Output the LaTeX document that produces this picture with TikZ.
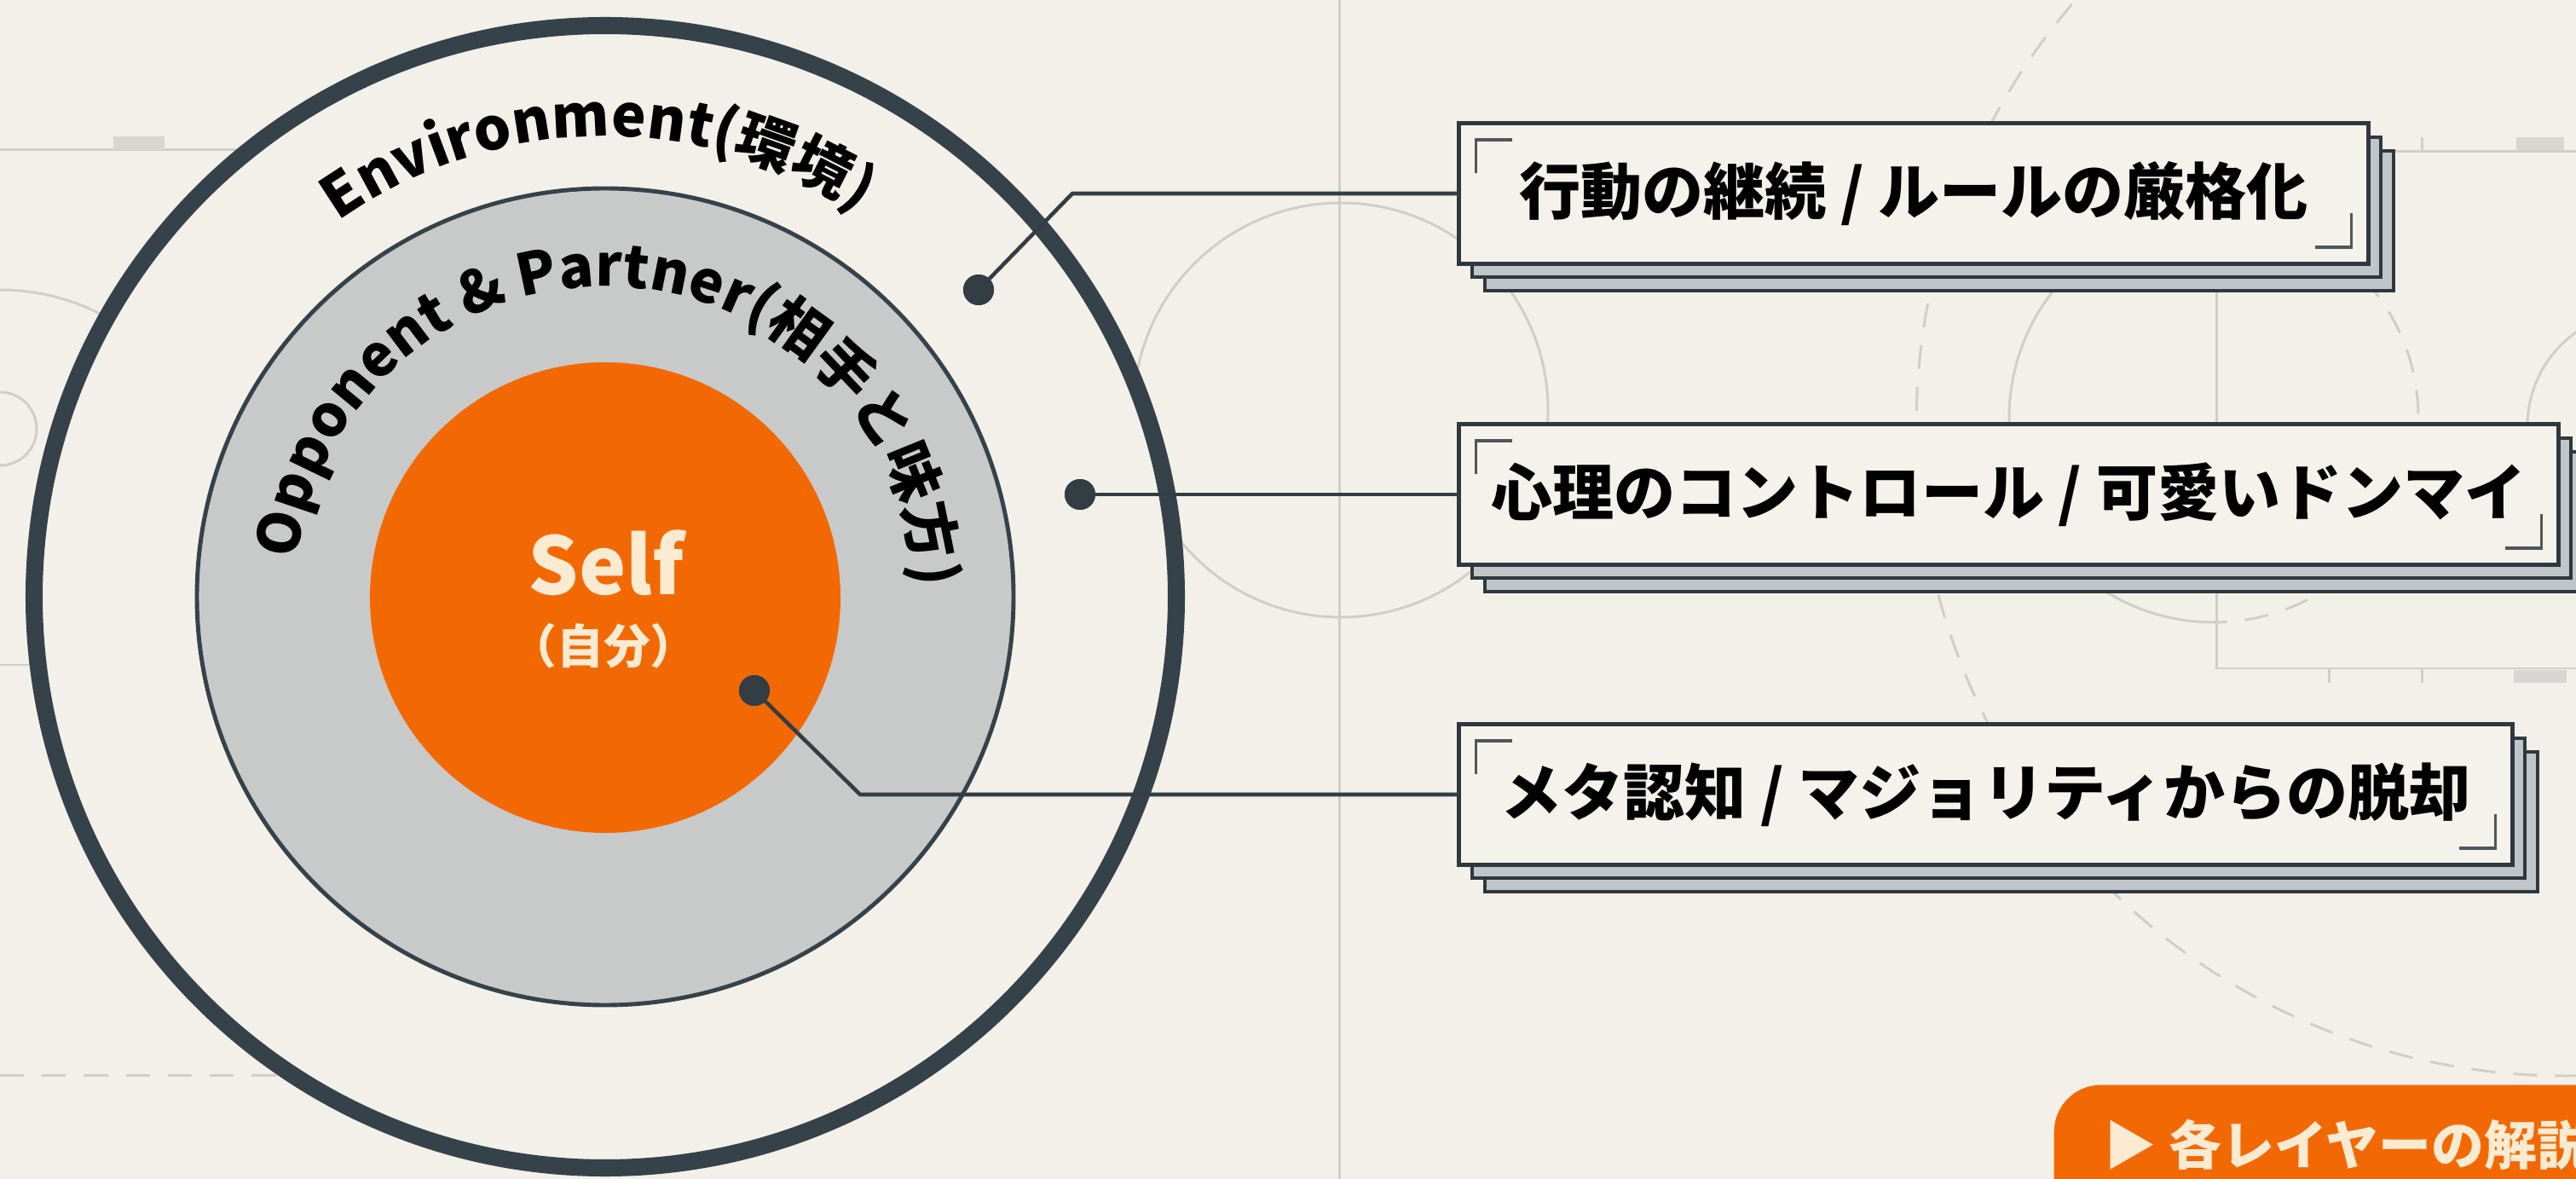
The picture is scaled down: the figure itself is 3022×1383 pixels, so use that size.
\documentclass[tikz,border=0pt]{standalone}
\usepackage{fontspec}
\setmainfont{Noto Sans CJK JP}
\usetikzlibrary{decorations.text}
\pgfdeclarelayer{bg}
\pgfdeclarelayer{sh}
\pgfsetlayers{bg,sh,main}
\definecolor{bgcol}{HTML}{F2F0E8}
\definecolor{ringcol}{HTML}{36424A}
\definecolor{graycol}{HTML}{C8C9C9}
\definecolor{orangecol}{HTML}{F26904}
\definecolor{creamtxt}{HTML}{FBEBD2}
\definecolor{courtcol}{HTML}{CFCFCA}
\definecolor{courtfill}{HTML}{D6D6D2}
\definecolor{boxfill}{HTML}{F4F2EA}
\definecolor{layerfill}{HTML}{BFC5C9}
\definecolor{boxline}{HTML}{2F383E}
\definecolor{conncol}{HTML}{333D44}
\definecolor{brackcol}{HTML}{50565A}
\begin{document}
\begin{tikzpicture}[x=0.01cm,y=-0.01cm,
  court/.style={draw=courtcol, line width=0.85pt},
  courtdash/.style={court, dash pattern=on 8pt off 6pt},
  conn/.style={draw=conncol, line width=1.3pt, line join=round},
  dotnode/.style={circle, fill=conncol, inner sep=0pt, minimum size=0.36cm},
  labelbox/.style={draw=boxline, line width=1.4pt, fill=boxfill, inner sep=0pt, outer sep=0pt,
    minimum height=1.64cm, text=black, font=\bfseries\fontsize{20.5pt}{24pt}\selectfont},
  layerbox/.style={draw=boxline, line width=1.1pt, fill=layerfill},
  bracket/.style={draw=brackcol, line width=1pt},
]
\useasboundingbox (0,0) rectangle (3022,1383);
\clip (0,0) rectangle (3022,1383);

\begin{pgfonlayer}{bg}
\fill[bgcol] (0,0) rectangle (3022,1383);
% left court marks
\draw[court] (0,176) -- (330,176);
\fill[courtfill] (133,160) rectangle (193,176);
\draw[court] (0,503) circle[radius=43];
\draw[court] (0,600) ++(-90:260) arc[start angle=-90, end angle=-30, radius=260];
\draw[court] (0,780) -- (35,780);
\draw[courtdash] (0,1261) -- (340,1261);
% centre
\draw[court] (1571,0) -- (1571,1383);
\draw[court] (1573,481) circle[radius=243];
% right court marks
\draw[courtdash] (3010,500) circle[radius=762];
\draw[court] (3022,178) -- (2600,178) -- (2600,784) -- (3022,784);
\draw[court] (2841,178) -- (2841,161);
\fill[courtfill] (2952,161) rectangle (3008,176);
\draw[court] (2732,784) -- (2732,801);
\draw[court] (2841,784) -- (2841,801);
\fill[courtfill] (2949,786) rectangle (3011,801);
\draw[court] (2597,490) ++(90:240) arc[start angle=90, end angle=270, radius=240];
\draw[courtdash] (2597,490) ++(-90:240) arc[start angle=-90, end angle=90, radius=240];
\draw[court] (3100,500) circle[radius=135];
\end{pgfonlayer}

% concentric layers
\draw[draw=ringcol, line width=5.7pt, fill=bgcol] (710,700) circle[radius=670];
\draw[draw=ringcol, line width=1.4pt, fill=graycol] (710,700) circle[radius=479];
\fill[orangecol] (710,701) circle[radius=276];

% curved labels
\path[decorate, decoration={text along path, text align=center,
  text={|\bfseries\fontsize{19.5pt}{22pt}\selectfont|Environment(環境)}}]
  (710,700) ++(-161:540) arc[start angle=-161, end angle=-21, radius=540];
\path[decorate, decoration={text along path, text align=center,
  text={|\bfseries\fontsize{19.3pt}{22pt}\selectfont|Opponent {\&} Partner(相手と味方)}}]
  (710,700) ++(-178:364) arc[start angle=-178, end angle=3, radius=364];

% centre label
\node[text=creamtxt, font=\bfseries\fontsize{26.5pt}{30pt}\selectfont] (self) at (711,660) {Self};
\node[text=creamtxt, font=\bfseries\fontsize{15.6pt}{18pt}\selectfont] (selfjp) at (708,758) {（自分）};

% boxes
\node[labelbox, minimum width=10.66cm] (box1) at (2245,227) {行動の継続 / ルールの厳格化};
\node[labelbox, minimum width=12.89cm] (box2) at (2356.5,580) {心理のコントロール / 可愛いドンマイ};
\node[labelbox, minimum width=12.35cm] (box3) at (2329.5,932) {メタ認知 / マジョリティからの脱却};

\begin{pgfonlayer}{sh}
\foreach \b in {box1,box2,box3}{
  \draw[layerbox] ([shift={(30,32)}]\b.south west) rectangle ([shift={(30,32)}]\b.north east);
  \draw[layerbox] ([shift={(15,16)}]\b.south west) rectangle ([shift={(15,16)}]\b.north east);
}
\end{pgfonlayer}

\foreach \b in {box1,box2,box3}{
  \draw[bracket] ([shift={(20,58)}]\b.north west) -- ++(0,-39) -- ++(42,0);
  \draw[bracket] ([shift={(-62,-19)}]\b.south east) -- ++(42,0) -- ++(0,-40);
}

% connectors
\node[dotnode] (d1) at (1148,340) {};
\node[dotnode] (d2) at (1267,580) {};
\node[dotnode] (d3) at (885,810) {};
\coordinate (k1) at (1258,227);
\coordinate (k3) at (1009,932);
\draw[conn] (d1.center) -- (k1) -- (box1.west);
\draw[conn] (d2.center) -- (box2.west);
\draw[conn] (d3.center) -- (k3) -- (box3.west);
\node[dotnode] at (d1) {};
\node[dotnode] at (d2) {};
\node[dotnode] at (d3) {};

% button
\node[fill=orangecol, rounded corners=15.6pt, anchor=north west, minimum width=7cm,
  minimum height=2.2cm, inner sep=0pt] (btn) at (2409,1272) {};
\node[anchor=west, text=creamtxt, inner sep=0pt,
  font=\bfseries\fontsize{17.6pt}{22pt}\selectfont] (btntext) at (2468,1343) {▶ 各レイヤーの解説};
\end{tikzpicture}
\end{document}
